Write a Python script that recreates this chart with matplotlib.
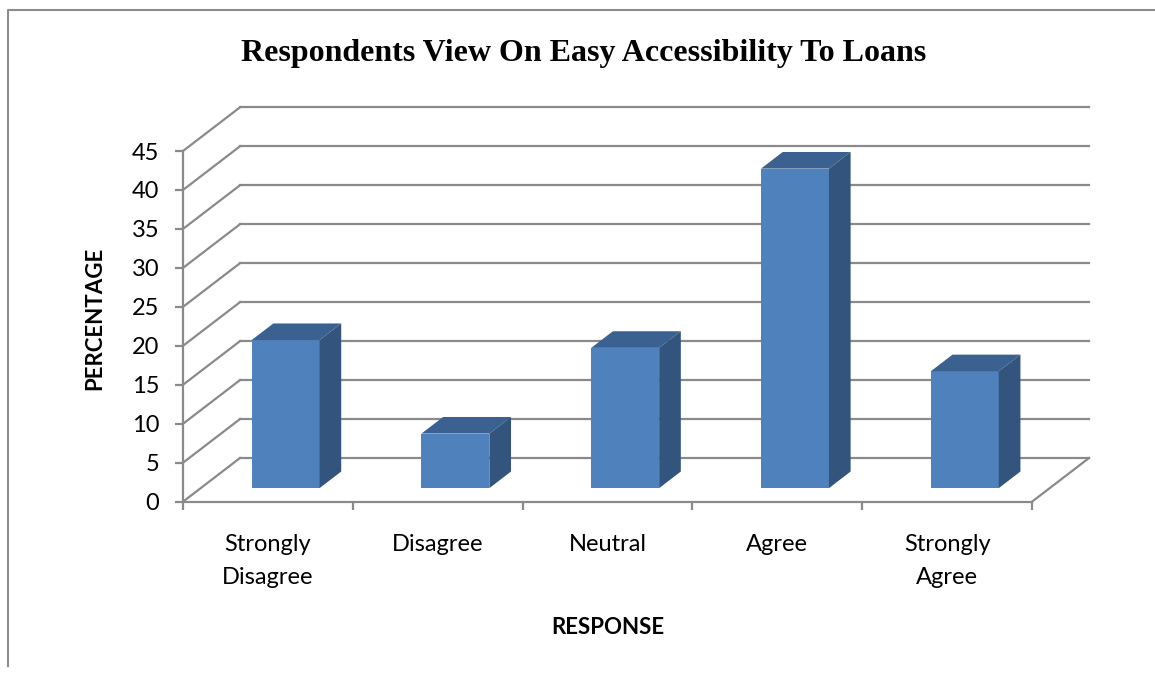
import matplotlib
matplotlib.use("Agg")
import matplotlib.pyplot as plt
from matplotlib.lines import Line2D
import numpy as np

# Survey responses (percent of respondents)
categories = ["Strongly\nDisagree", "Disagree", "Neutral", "Agree", "Strongly\nAgree"]
percentages = [19, 7, 18, 41, 15]
y_ticks = [0, 5, 10, 15, 20, 25, 30, 35, 40, 45]

title = "Respondents View On Easy Accessibility To Loans"
x_title = "RESPONSE"
y_title = "PERCENTAGE"

# Styling
W, H = 1155, 677
GRID = "#8a8a8a"
FRONT = "#4f81bd"
TOP = "#3b6190"
SIDE = "#33557d"
SANS = ["Lato", "DejaVu Sans"]

# Oblique projection of the depth axis (in data units)
DX, DY = 0.336, 5.61          # full floor depth
D0, D1 = 0.31, 0.69           # bar front / back depth fraction
BAR_W = 0.4

fig = plt.figure(figsize=(W / 100, H / 100), dpi=100)
ax = fig.add_axes([183 / W, (H - 501.7) / H, 849 / W, 350.7 / H])
ax.set_xlim(0, len(categories))
ax.set_ylim(0, y_ticks[-1])
ax.set_facecolor("none")

for s in ("top", "right"):
    ax.spines[s].set_visible(False)
for s in ("left", "bottom"):
    ax.spines[s].set_color(GRID)
    ax.spines[s].set_linewidth(1.6)

# Side wall and back wall gridlines
n = len(categories)
for v in y_ticks:
    ax.plot([0, DX], [v, v + DY], color=GRID, lw=1.6, clip_on=False, zorder=1)
    ax.plot([DX, n + DX], [v + DY, v + DY], color=GRID, lw=1.6, clip_on=False, zorder=1)
# Right edge of the floor
ax.plot([n, n + DX], [0, DY], color=GRID, lw=1.6, clip_on=False, zorder=1)

# 3-D style columns
centers = np.arange(n) + 0.5
fx = centers + D0 * DX
base = D0 * DY
ddx, ddy = (D1 - D0) * DX, (D1 - D0) * DY
ax.bar(fx, percentages, width=BAR_W, bottom=base, color=FRONT,
       edgecolor="none", zorder=3, clip_on=False)
for x, v in zip(fx, percentages):
    xl, xr = x - BAR_W / 2, x + BAR_W / 2
    top = base + v
    ax.fill([xl, xr, xr + ddx, xl + ddx], [top, top, top + ddy, top + ddy],
            color=TOP, lw=0, zorder=3, clip_on=False)
    ax.fill([xr, xr + ddx, xr + ddx, xr], [base, base + ddy, top + ddy, top],
            color=SIDE, lw=0, zorder=3, clip_on=False)

# Axes ticks
ax.set_yticks(y_ticks)
ax.set_yticklabels([str(t) for t in y_ticks], fontsize=17, family=SANS)
ax.tick_params(axis="y", length=6, width=1.6, color=GRID, pad=11)

ax.set_xticks(centers)
ax.set_xticklabels(categories, fontsize=17, family=SANS, linespacing=1.7)
ax.tick_params(axis="x", which="major", length=0, pad=23)
ax.set_xticks(np.arange(n + 1), minor=True)
ax.tick_params(axis="x", which="minor", length=6, width=1.6, color=GRID)

ax.set_xlabel(x_title, fontsize=16, fontweight="bold", family=SANS, va="center")
ax.xaxis.set_label_coords((607.5 - 183) / 849, (501.7 - 628) / 350.7)
ax.set_ylabel(y_title, fontsize=16, fontweight="bold", family=SANS, va="center")
ax.yaxis.set_label_coords((95 - 183) / 849, (501.7 - 318.5) / 350.7)

fig.text(584 / W, 1 - 61 / H, title, ha="center", va="baseline",
         fontsize=23, fontweight="bold", family=["Liberation Serif", "DejaVu Serif"])

# Chart frame (left and top edges)
fig.add_artist(Line2D([8 / W, 8 / W, 1], [1 - 666 / H, 1 - 10 / H, 1 - 10 / H],
                      color="#8c8c8c", lw=1.5))

fig.savefig("out.png", dpi=100, facecolor="white")
